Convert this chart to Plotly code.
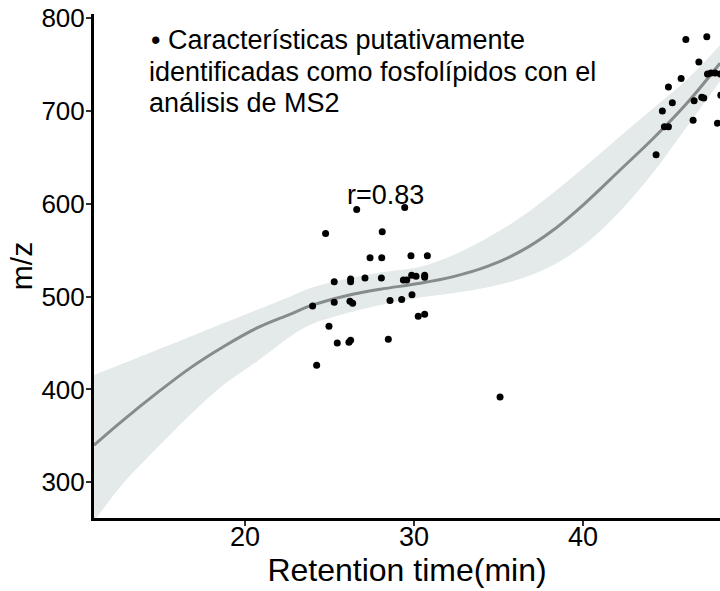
import plotly.graph_objects as go

# ---- data ----
rt = [26.61, 29.45, 24.77, 28.12, 27.4, 28.09, 29.82, 30.79, 25.28, 26.25, 26.25, 27.1,
      28.07, 29.37, 29.57, 29.86, 30.12, 30.63, 30.63, 24.0, 25.28, 26.21, 26.37, 28.58,
      29.27, 29.88, 24.97, 30.25, 30.63, 25.46, 26.15, 26.25, 28.48, 24.24,
      35.09,
      46.08, 47.32, 46.85, 45.8, 45.05, 47.36, 47.57, 47.81, 48.12, 45.28, 44.69, 46.57,
      47.02, 47.14, 48.15, 44.81, 45.05, 46.51, 47.95, 44.32]
mz = [594, 596, 568, 570, 542, 542, 544, 544, 516, 519, 516, 520,
      520, 518, 518, 523, 522, 523, 521, 490, 494, 495, 493, 496,
      497, 502, 468, 479, 481, 450, 451, 453, 454, 426,
      392,
      777, 780, 753, 735, 726, 740, 741, 741, 740, 709, 700, 711,
      715, 714, 717, 683, 683, 690, 687, 653]

fit_x = [11.07, 12.8, 14.78, 16.75, 18.72, 20.69, 22.66, 23.85, 26.0, 28.0, 30.36,
         32.33, 34.30, 36.27, 38.24, 40.22, 42.19, 44.16, 46.14, 48.1]
fit_y = [340, 367, 396, 423, 446, 466, 481, 490, 501, 508, 514.4,
         521.6, 532.3, 548.5, 571.9, 602.4, 636.5, 670.7, 708.4, 751.5]
fit_hi = [415.6, 428, 442.6, 456.9, 471.3, 485.7, 500, 509, 519, 526, 532.3,
          545, 563, 585, 612, 642, 673, 703, 734, 771]
fit_lo = [258, 299, 336.6, 372.5, 404.8, 430, 456.9, 469.5, 482, 491, 499,
          504, 510, 519, 534, 558, 592, 634, 683, 732]

x_ticks = [20, 30, 40]
y_ticks = [300, 400, 500, 600, 700, 800]

note_lines = ["\u2022 Características putativamente",
              "identificadas como fosfolípidos con el",
              "análisis de MS2"]
r_label = "r=0.83"

FONT = "Liberation Sans, Arial, sans-serif"

fig = go.Figure()
fig.add_trace(go.Scatter(x=fit_x, y=fit_lo, mode="lines", line=dict(width=0, shape="spline"),
                         showlegend=False, hoverinfo="skip"))
fig.add_trace(go.Scatter(x=fit_x, y=fit_hi, mode="lines", line=dict(width=0, shape="spline"),
                         fill="tonexty", fillcolor="#E4E9E9", showlegend=False, hoverinfo="skip"))
fig.add_trace(go.Scatter(x=fit_x, y=fit_y, mode="lines",
                         line=dict(color="#868B8B", width=3, shape="spline"),
                         showlegend=False))
fig.add_trace(go.Scatter(x=rt, y=mz, mode="markers",
                         marker=dict(color="black", size=7), showlegend=False))

W, H = 720, 591
ML, MR, MT, MB = 94, 0, 14, 73
pw, ph = W - ML - MR, H - MT - MB

def px(xp):
    return (xp - ML) / pw

def py(yp):
    return (H - MB - yp) / ph

line_pos = [(149, 40), (147, 72), (147, 103)]
for txt, (xp, yp) in zip(note_lines, line_pos):
    fig.add_annotation(x=px(xp), y=py(yp), xref="paper", yref="paper", text=txt,
                       showarrow=False, xanchor="left", yanchor="middle",
                       font=dict(family=FONT, size=27, color="black"))
fig.add_annotation(x=px(385), y=py(195), xref="paper", yref="paper", text=r_label,
                   showarrow=False, xanchor="center", yanchor="middle",
                   font=dict(family=FONT, size=27, color="black"))

fig.update_layout(
    width=W, height=H, autosize=False,
    margin=dict(l=ML, r=MR, t=MT, b=MB, pad=0),
    plot_bgcolor="white", paper_bgcolor="white",
    font=dict(family=FONT, color="black"),
    xaxis=dict(range=[11.07, 48.1], tickvals=x_ticks, showgrid=False, zeroline=False,
               showline=True, linecolor="black", linewidth=3,
               ticks="outside", ticklen=5, tickwidth=1.5, tickcolor="#333333",
               ticklabelstandoff=-12,
               tickfont=dict(family=FONT, size=27, color="black"),
               title=dict(text="Retention time(min)", font=dict(family=FONT, size=32, color="black"),
                          standoff=4)),
    yaxis=dict(range=[261.5, 804.6], tickvals=y_ticks, showgrid=False, zeroline=False,
               showline=True, linecolor="black", linewidth=3,
               ticks="outside", ticklen=5, tickwidth=1.5, tickcolor="#333333",
               ticklabelstandoff=-4,
               tickfont=dict(family=FONT, size=26, color="black"),
               title=dict(text="m/z", font=dict(family=FONT, size=30, color="black"),
                          standoff=0)),
)

fig.write_html("out.html")
